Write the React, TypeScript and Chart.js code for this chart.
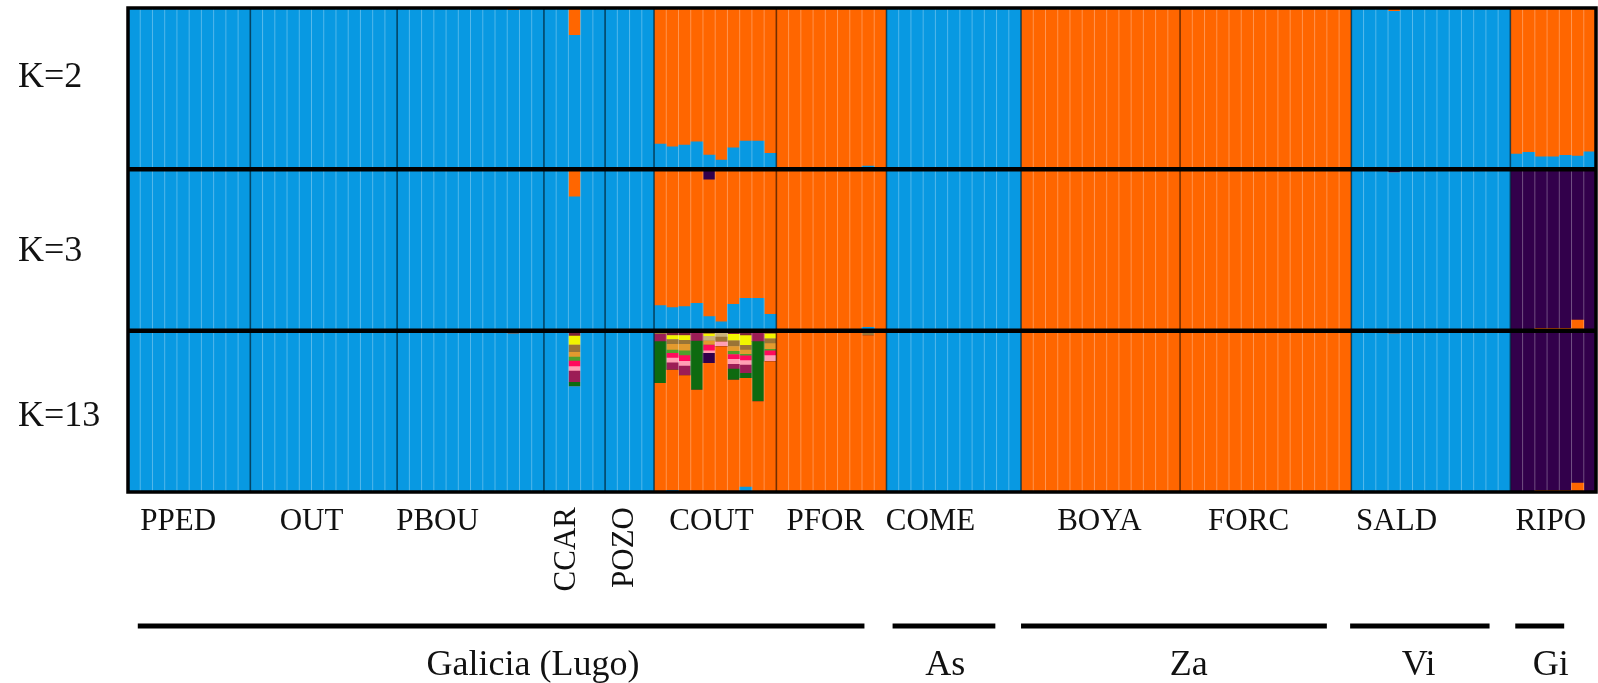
import React, { useEffect, useRef } from "react";
import { Chart, registerables } from "chart.js";

Chart.register(...registerables);

// ---------- data ----------
const populations = ["PPED", "OUT", "PBOU", "CCAR", "POZO", "COUT", "PFOR", "COME", "BOYA", "FORC", "SALD", "RIPO"];
const popSizes = [10, 12, 12, 5, 4, 10, 9, 11, 13, 14, 13, 7];
// label anchor (in individual units from the left edge)
const popLabelAt = [4.1, 15.0, 25.3, 35.9, 40.6, 47.7, 57.0, 65.6, 79.4, 91.6, 103.7, 116.3];
const popLabelRotated = [false, false, false, true, true, false, false, false, false, false, false, false];

const regions = ["Galicia (Lugo)", "As", "Za", "Vi", "Gi"];
const regionLineFrom = [0.8, 62.5, 73.0, 99.9, 113.4];
const regionLineTo = [60.2, 70.9, 98.0, 111.3, 117.4];
const regionLabelAt = [33.1, 66.8, 86.7, 105.5, 116.3];

const kLabels = ["K=2", "K=3", "K=13"];
const kLabelValue = [0.51, 0.43, 0.41];

// K = 2
const k2Blue = [
  1, 1, 1, 1, 0.99, 1, 1, 1, 1, 1, // PPED
  1, 1, 1, 1, 1, 1, 1, 1, 1, 1, 1, 1, // OUT
  1, 1, 1, 1, 1, 1, 1, 1, 1, 0.985, 1, 1, // PBOU
  1, 1, 0.83, 1, 1, // CCAR
  1, 1, 1, 1, // POZO
  0.157, 0.14, 0.151, 0.171, 0.089, 0.058, 0.134, 0.175, 0.175, 0.099, // COUT
  0, 0, 0, 0, 0, 0, 0, 0.02, 0, // PFOR
  1, 1, 1, 1, 1, 1, 1, 1, 1, 1, 1, // COME
  0, 0, 0, 0, 0, 0, 0, 0, 0, 0, 0, 0, 0, // BOYA
  0, 0, 0, 0, 0, 0, 0, 0, 0, 0, 0, 0, 0, 0, // FORC
  1, 1, 1, 0.98, 1, 1, 1, 1, 1, 1, 1, 1, 1, // SALD
  0.095, 0.105, 0.078, 0.078, 0.087, 0.082, 0.109, // RIPO
];
const k2Orange = [
  0, 0, 0, 0, 0.01, 0, 0, 0, 0, 0,
  0, 0, 0, 0, 0, 0, 0, 0, 0, 0, 0, 0,
  0, 0, 0, 0, 0, 0, 0, 0, 0, 0.015, 0, 0,
  0, 0, 0.17, 0, 0,
  0, 0, 0, 0,
  0.843, 0.86, 0.849, 0.829, 0.911, 0.942, 0.866, 0.825, 0.825, 0.901,
  1, 1, 1, 1, 1, 1, 1, 0.98, 1,
  0, 0, 0, 0, 0, 0, 0, 0, 0, 0, 0,
  1, 1, 1, 1, 1, 1, 1, 1, 1, 1, 1, 1, 1,
  1, 1, 1, 1, 1, 1, 1, 1, 1, 1, 1, 1, 1, 1,
  0, 0, 0, 0.02, 0, 0, 0, 0, 0, 0, 0, 0, 0,
  0.905, 0.895, 0.922, 0.922, 0.913, 0.918, 0.891,
];

// K = 3
const k3Blue = [
  1, 1, 1, 1, 1, 1, 1, 1, 1, 1,
  1, 1, 1, 1, 1, 1, 1, 1, 1, 1, 1, 1,
  1, 1, 1, 1, 1, 1, 1, 1, 1, 0.99, 1, 1,
  1, 1, 0.83, 1, 1,
  1, 1, 1, 1,
  0.155, 0.143, 0.149, 0.17, 0.087, 0.055, 0.164, 0.201, 0.201, 0.101,
  0, 0, 0, 0, 0, 0, 0, 0.02, 0,
  1, 1, 1, 1, 1, 1, 1, 1, 1, 1, 1,
  0, 0, 0, 0, 0, 0, 0, 0, 0, 0, 0, 0, 0,
  0, 0, 0, 0, 0, 0, 0, 0, 0, 0, 0, 0, 0, 0,
  1, 1, 1, 0.98, 1, 1, 0.99, 1, 1, 1, 1, 1, 1,
  0, 0, 0, 0, 0, 0, 0,
];
const k3Orange = [
  0, 0, 0, 0, 0, 0, 0, 0, 0, 0,
  0, 0, 0, 0, 0, 0, 0, 0, 0, 0, 0, 0,
  0, 0, 0, 0, 0, 0, 0, 0, 0, 0, 0, 0,
  0, 0, 0.17, 0, 0,
  0, 0, 0, 0,
  0.845, 0.857, 0.851, 0.83, 0.848, 0.945, 0.836, 0.799, 0.799, 0.899,
  1, 1, 1, 1, 1, 1, 1, 0.98, 1,
  0, 0, 0, 0, 0, 0, 0, 0, 0, 0, 0,
  1, 1, 1, 1, 1, 1, 1, 1, 1, 1, 1, 1, 1,
  1, 1, 1, 1, 1, 1, 1, 1, 1, 1, 1, 1, 1, 1,
  0, 0, 0, 0, 0, 0, 0, 0, 0, 0, 0, 0, 0,
  0.005, 0.005, 0.015, 0.015, 0.015, 0.066, 0.005,
];
const k3Purple = [
  0, 0, 0, 0, 0, 0, 0, 0, 0, 0,
  0, 0, 0, 0, 0, 0, 0, 0, 0, 0, 0, 0,
  0, 0, 0, 0, 0, 0, 0, 0, 0, 0.01, 0, 0,
  0, 0, 0, 0, 0,
  0, 0, 0, 0,
  0, 0, 0, 0, 0.065, 0, 0, 0, 0, 0,
  0, 0, 0, 0, 0, 0, 0, 0, 0,
  0, 0, 0, 0, 0, 0, 0, 0, 0, 0, 0,
  0, 0, 0, 0, 0, 0, 0, 0, 0, 0, 0, 0, 0,
  0, 0, 0, 0, 0, 0, 0, 0, 0, 0, 0, 0, 0, 0,
  0, 0, 0, 0.02, 0, 0, 0.01, 0, 0, 0, 0, 0, 0,
  0.995, 0.995, 0.985, 0.985, 0.985, 0.934, 0.995,
];

// K = 13 (dominant clusters, per individual)
const k13Blue = [
  1, 1, 1, 1, 0.985, 1, 1, 1, 1, 1,
  1, 1, 1, 1, 1, 1, 1, 1, 1, 1, 1, 1,
  1, 0.985, 0.985, 1, 1, 1, 1, 1, 1, 0.98, 1, 1,
  1, 1, 0.653, 1, 1,
  1, 1, 1, 1,
  0, 0.01, 0, 0, 0, 0, 0, 0.03, 0, 0,
  0, 0, 0, 0, 0, 0, 0, 0, 0,
  1, 1, 1, 1, 1, 1, 1, 1, 1, 1, 1,
  0, 0, 0, 0, 0, 0, 0, 0, 0, 0, 0, 0, 0,
  0, 0, 0, 0, 0, 0, 0, 0, 0, 0, 0, 0, 0, 0,
  0.99, 1, 1, 0.98, 1, 1, 0.985, 1, 1, 1, 1, 1, 1,
  0, 0, 0, 0, 0, 0, 0,
];
const k13Orange = [
  0, 0, 0, 0, 0, 0, 0, 0, 0, 0,
  0, 0, 0, 0, 0, 0, 0, 0, 0, 0, 0, 0,
  0, 0, 0, 0, 0, 0, 0, 0, 0, 0, 0, 0,
  0, 0, 0, 0, 0,
  0, 0, 0, 0,
  0.674, 0.746, 0.721, 0.632, 0.798, 0.901, 0.694, 0.675, 0.56, 0.808,
  1, 1, 1, 1, 1, 1, 1, 0.97, 1,
  0, 0, 0, 0, 0, 0, 0, 0, 0, 0, 0,
  1, 1, 1, 1, 1, 1, 1, 1, 1, 1, 1, 1, 1,
  1, 1, 1, 1, 1, 1, 1, 1, 1, 1, 1, 1, 1, 1,
  0, 0, 0, 0, 0, 0, 0, 0, 0, 0, 0, 0, 0,
  0, 0, 0.01, 0.01, 0.01, 0.056, 0,
];
const k13Purple = [
  0, 0, 0, 0, 0, 0, 0, 0, 0, 0,
  0, 0, 0, 0, 0, 0, 0, 0, 0, 0, 0, 0,
  0, 0, 0, 0, 0, 0, 0, 0, 0, 0, 0, 0,
  0, 0, 0, 0, 0,
  0, 0, 0, 0,
  0, 0, 0, 0, 0.062, 0, 0, 0, 0, 0,
  0, 0, 0, 0, 0, 0, 0, 0, 0,
  0, 0, 0, 0, 0, 0, 0, 0, 0, 0, 0,
  0, 0, 0, 0, 0, 0, 0, 0, 0, 0, 0, 0, 0,
  0, 0, 0, 0, 0, 0, 0, 0, 0, 0, 0, 0, 0, 0,
  0, 0, 0, 0, 0, 0, 0, 0, 0, 0, 0, 0, 0,
  1, 1, 0.99, 0.99, 0.99, 0.944, 1,
];
// K = 13 minor clusters: [individual index, membership]
const k13DarkGreen: [number, number][] = [[36, 0.026], [43, 0.258], [46, 0.304], [49, 0.068], [50, 0.031], [51, 0.372]];
const k13Maroon: [number, number][] = [[36, 0.071], [43, 0.045], [44, 0.044], [45, 0.059], [46, 0.064], [49, 0.03], [50, 0.05], [51, 0.068]];
const k13LightPink: [number, number][] = [[36, 0.027], [44, 0.03], [45, 0.03], [47, 0.015], [48, 0.029], [49, 0.03], [50, 0.028], [52, 0.037]];
const k13Red: [number, number][] = [[36, 0.035], [44, 0.03], [45, 0.035], [47, 0.035], [49, 0.03], [50, 0.03], [52, 0.03]];
const k13LightGreen: [number, number][] = [[36, 0.025], [44, 0.02], [45, 0.03], [49, 0.02], [50, 0.01], [52, 0.01]];
const k13Gold: [number, number][] = [[36, 0.029], [44, 0.035], [45, 0.04], [47, 0.025], [49, 0.03], [50, 0.025], [52, 0.035]];
const k13Brown: [number, number][] = [[4, 0.015], [23, 0.015], [24, 0.015], [31, 0.02], [36, 0.045], [43, 0.023], [44, 0.03], [45, 0.025], [48, 0.03], [49, 0.035], [50, 0.03], [52, 0.03], [60, 0.03], [100, 0.01], [103, 0.02], [106, 0.015]];
const k13Khaki: [number, number][] = [[47, 0.03], [48, 0.03]];
const k13Yellow: [number, number][] = [[36, 0.056], [44, 0.025], [45, 0.03], [47, 0.015], [49, 0.04], [50, 0.06], [52, 0.03]];
const k13DarkRed: [number, number][] = [[36, 0.033], [44, 0.03], [45, 0.03], [47, 0.02], [48, 0.01], [49, 0.023], [50, 0.031], [52, 0.02]];

// ---------- derived ----------
const N = popSizes.reduce((a, b) => a + b, 0);
const popStarts = popSizes.map((_, i) => popSizes.slice(0, i).reduce((a, b) => a + b, 0));
const individuals: string[] = [];
populations.forEach((p, i) => {
  for (let j = 0; j < popSizes[i]; j++) individuals.push(`${p}-${j + 1}`);
});
const dense = (pairs: [number, number][]) => {
  const a = new Array(N).fill(0);
  pairs.forEach(([i, v]) => (a[i] = v));
  return a;
};

const BLUE = "#0899e2";
const ORANGE = "#ff6600";
const PURPLE = "#32004b";

const panels = [
  { axis: "yK2", weight: 3, clusters: [[k2Blue, BLUE], [k2Orange, ORANGE]] },
  { axis: "yK3", weight: 2, clusters: [[k3Blue, BLUE], [k3Orange, ORANGE], [k3Purple, PURPLE]] },
  {
    axis: "yK13",
    weight: 1,
    clusters: [
      [k13Blue, BLUE],
      [k13Orange, ORANGE],
      [k13Purple, PURPLE],
      [dense(k13DarkGreen), "#0e6a10"],
      [dense(k13Maroon), "#9c1d56"],
      [dense(k13LightPink), "#ff9fb4"],
      [dense(k13Red), "#ff0a5c"],
      [dense(k13LightGreen), "#4f9f2c"],
      [dense(k13Gold), "#e39a2e"],
      [dense(k13Brown), "#9a7436"],
      [dense(k13Khaki), "#c9b27a"],
      [dense(k13Yellow), "#f2f500"],
      [dense(k13DarkRed), "#7c2438"],
    ],
  },
];

const FONT = '"Liberation Serif", "Times New Roman", serif';

const overlayPlugin = {
  id: "structureOverlay",
  afterDatasetsDraw(chart: any) {
    const ctx = chart.ctx as CanvasRenderingContext2D;
    const xs = chart.scales.x;
    const area = chart.chartArea;
    const ex = (u: number) => xs.getPixelForValue(u - 0.5);
    const line = (x1: number, y1: number, x2: number, y2: number) => {
      ctx.beginPath();
      ctx.moveTo(x1, y1);
      ctx.lineTo(x2, y2);
      ctx.stroke();
    };
    ctx.save();
    ctx.lineWidth = 1;
    ctx.strokeStyle = "rgba(255,255,255,0.3)";
    for (let i = 1; i < N; i++) {
      if (popStarts.includes(i)) continue;
      const px = ex(i);
      line(px, area.top, px, area.bottom);
    }
    ctx.strokeStyle = "rgba(0,0,0,0.55)";
    ctx.lineWidth = 1.6;
    popStarts.slice(1).forEach((s) => {
      const px = ex(s);
      line(px, area.top, px, area.bottom);
    });
    ctx.strokeStyle = "#000";
    ctx.lineWidth = 4.5;
    ["yK3", "yK13"].forEach((id) => {
      const y = chart.scales[id].top;
      line(area.left, y, area.right, y);
    });
    ctx.lineWidth = 3.5;
    ctx.strokeRect(area.left, area.top, area.right - area.left, area.bottom - area.top);
    ctx.restore();
  },
  afterDraw(chart: any) {
    const ctx = chart.ctx as CanvasRenderingContext2D;
    const xs = chart.scales.x;
    const area = chart.chartArea;
    const ex = (u: number) => xs.getPixelForValue(u - 0.5);
    ctx.save();
    ctx.fillStyle = "#111";
    // K labels
    ctx.font = `36px ${FONT}`;
    ctx.textAlign = "left";
    ctx.textBaseline = "alphabetic";
    panels.forEach((p, i) => {
      ctx.fillText(kLabels[i], 18, chart.scales[p.axis].getPixelForValue(kLabelValue[i]));
    });
    // population labels
    ctx.font = `31px ${FONT}`;
    populations.forEach((name, i) => {
      const cx = ex(popLabelAt[i]);
      if (popLabelRotated[i]) {
        ctx.save();
        ctx.translate(cx, area.bottom + 15);
        ctx.rotate(-Math.PI / 2);
        ctx.textAlign = "right";
        ctx.textBaseline = "middle";
        ctx.fillText(name, 0, 0);
        ctx.restore();
      } else {
        ctx.textAlign = "center";
        ctx.textBaseline = "alphabetic";
        ctx.fillText(name, cx, area.bottom + 38);
      }
    });
    // region lines and labels
    ctx.strokeStyle = "#000";
    ctx.lineWidth = 5;
    regions.forEach((name, i) => {
      ctx.beginPath();
      ctx.moveTo(ex(regionLineFrom[i]), 626);
      ctx.lineTo(ex(regionLineTo[i]), 626);
      ctx.stroke();
    });
    ctx.font = `36px ${FONT}`;
    ctx.textAlign = "center";
    ctx.textBaseline = "alphabetic";
    regions.forEach((name, i) => {
      ctx.fillText(name, ex(regionLabelAt[i]), 675);
    });
    ctx.restore();
  },
};

export default function App() {
  const ref = useRef<HTMLCanvasElement | null>(null);
  useEffect(() => {
    if (!ref.current) return;
    const datasets: any[] = [];
    panels.forEach((p) => {
      p.clusters.forEach(([data, color], ci) => {
        datasets.push({
          label: `${p.axis}-c${ci + 1}`,
          data,
          backgroundColor: color,
          borderWidth: 0,
          yAxisID: p.axis,
          xAxisID: "x",
          stack: p.axis,
          grouped: false,
          barPercentage: 1,
          categoryPercentage: 1,
        });
      });
    });
    const yScale = (weight: number) => ({
      type: "linear",
      min: 0,
      max: 1,
      stacked: true,
      stack: "panels",
      stackWeight: 1,
      weight,
      position: "left",
      display: false,
    });
    const chart = new Chart(ref.current, {
      type: "bar",
      data: { labels: individuals, datasets },
      options: {
        responsive: false,
        animation: false,
        layout: { padding: { left: 128, right: 2, top: 8, bottom: 191 } },
        plugins: { legend: { display: false }, tooltip: { enabled: false } },
        scales: {
          x: { type: "category", stacked: true, offset: true, display: false },
          yK2: yScale(3),
          yK3: yScale(2),
          yK13: yScale(1),
        } as any,
      },
      plugins: [overlayPlugin],
    });
    return () => chart.destroy();
  }, []);
  return (
    <div style={{ position: "absolute", left: 0, top: 0, width: 1598, height: 683, background: "#fff" }}>
      <canvas ref={ref} width={1598} height={683} style={{ display: "block" }} />
    </div>
  );
}
